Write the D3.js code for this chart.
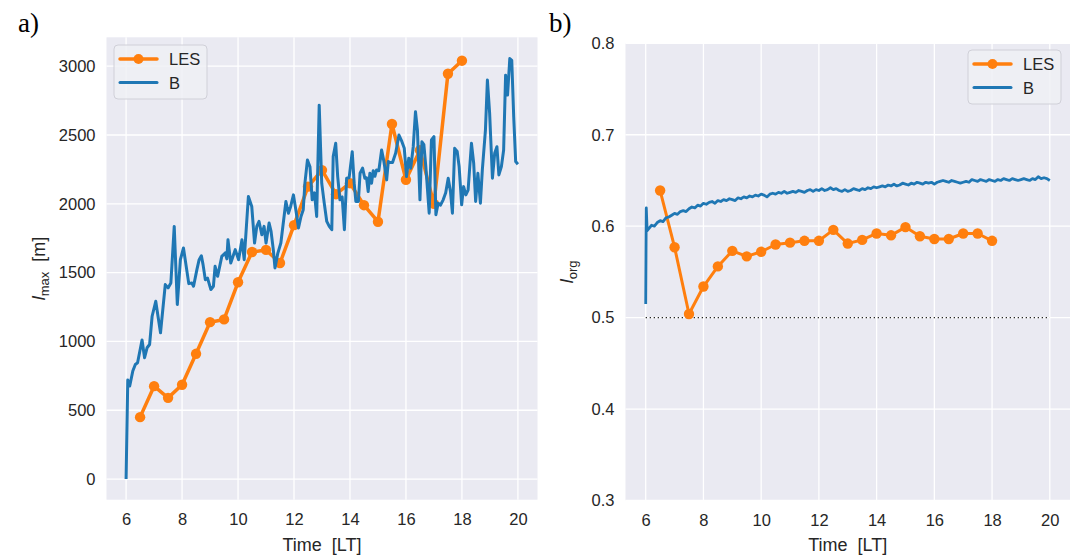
<!DOCTYPE html>
<html>
<head>
<meta charset="utf-8">
<script src="https://cdn.jsdelivr.net/npm/d3@7"></script>
<style>
  body { margin: 0; background: #ffffff; }
  svg { display: block; }
  text { font-family: "Liberation Sans", Arial, sans-serif; fill: #262626; }
  text.panel-letter { font-family: "Liberation Serif", "Times New Roman", serif; fill: #000000; }
</style>
</head>
<body>
<svg id="fig" width="1076" height="555"></svg>
<script>
// ---- data -------------------------------------------------------------
const timeTicks = [6, 8, 10, 12, 14, 16, 18, 20];
const lmaxTicks = [0, 500, 1000, 1500, 2000, 2500, 3000];
const iorgTicks = [0.3, 0.4, 0.5, 0.6, 0.7, 0.8];
const randomLevel = 0.5;

// LES output every half hour
const lesTimes = [6.5, 7, 7.5, 8, 8.5, 9, 9.5, 10, 10.5, 11, 11.5, 12,
                  12.5, 13, 13.5, 14, 14.5, 15, 15.5, 16, 16.5, 17, 17.5, 18];
const lesLmax = [450, 675, 590, 685, 910, 1140, 1160, 1430, 1650, 1665, 1570, 1845,
                 2125, 2245, 2070, 2150, 1990, 1870, 2580, 2175, 2390, 2000, 2945, 3040];
const lesIorg = [0.639, 0.577, 0.504, 0.534, 0.556, 0.573, 0.567, 0.572, 0.580, 0.582, 0.584, 0.584,
                 0.596, 0.581, 0.585, 0.592, 0.590, 0.599, 0.589, 0.586, 0.586, 0.592, 0.592, 0.584];

// B: largest cloud length [m]
const bLmaxTimes = [6.00, 6.06, 6.13, 6.24, 6.33, 6.41, 6.57, 6.66, 6.75, 6.84,
                    6.93, 7.06, 7.14, 7.23, 7.40, 7.50, 7.60, 7.72, 7.83, 7.94,
                    8.05, 8.24, 8.35, 8.41, 8.53, 8.61, 8.69, 8.75, 8.83, 8.91,
                    9.03, 9.12, 9.18, 9.27, 9.42, 9.54, 9.60, 9.64, 9.74, 9.90,
                    10.02, 10.14, 10.22, 10.37, 10.49, 10.59, 10.67, 10.75, 10.85, 10.93,
                    11.00, 11.11, 11.18, 11.26, 11.32, 11.42, 11.53, 11.71, 11.80, 11.88,
                    11.98, 12.07, 12.16, 12.25, 12.33, 12.39, 12.48, 12.57, 12.65, 12.73,
                    12.81, 12.90, 12.99, 13.08, 13.17, 13.26, 13.35, 13.40, 13.49, 13.56,
                    13.64, 13.72, 13.80, 13.88, 13.97, 14.08, 14.15, 14.21, 14.30, 14.36,
                    14.45, 14.53, 14.59, 14.65, 14.71, 14.77, 14.83, 14.89, 14.95, 15.03,
                    15.13, 15.21, 15.31, 15.37, 15.43, 15.52, 15.63, 15.75, 15.84, 15.94,
                    16.02, 16.10, 16.17, 16.26, 16.34, 16.41, 16.50, 16.57, 16.64, 16.71,
                    16.83, 16.91, 17.00, 17.07, 17.15, 17.23, 17.33, 17.42, 17.51, 17.59,
                    17.66, 17.74, 17.83, 17.90, 17.99, 18.06, 18.14, 18.22, 18.34, 18.42,
                    18.49, 18.57, 18.66, 18.73, 18.84, 18.91, 18.99, 19.09, 19.17, 19.25,
                    19.32, 19.41, 19.49, 19.56, 19.63, 19.71, 19.78, 19.85, 19.92, 20.00];
const bLmax = [0, 720, 676, 785, 833, 845, 1010, 882, 954, 978,
               1183, 1292, 1183, 1063, 1413, 1389, 1425, 1836, 1268, 1594,
               1679, 1420, 1425, 1401, 1522, 1594, 1623, 1558, 1449, 1460,
               1377, 1401, 1546, 1473, 1618, 1643, 1600, 1739, 1570, 1667,
               1594, 1739, 1594, 2053, 1981, 1715, 1836, 1872, 1775, 1836,
               1715, 1860, 1800, 1667, 1534, 1640, 1715, 2017, 1932, 1981,
               2065, 1950, 1824, 1908, 1957, 2150, 2319, 2270, 2029, 2080,
               1908, 2717, 2150, 2005, 1872, 1836, 1812, 2343, 2440, 2200,
               2029, 2050, 1812, 2186, 2190, 2379, 2150, 2017, 2017, 2222,
               2259, 2186, 2190, 2089, 2222, 2150, 2240, 2200, 2246, 2240,
               2391, 2310, 2174, 2307, 2300, 2300, 2367, 2500, 2460, 2403,
               2198, 2331, 2258, 2415, 2669, 2536, 2029, 2451, 2430, 2270,
               1932, 2464, 2488, 1920, 2005, 1990, 2029, 2080, 2186, 2090,
               1932, 2403, 2380, 2270, 1993, 2125, 2065, 2100, 2440, 2295,
               2017, 2222, 2005, 2250, 2536, 2899, 2657, 2186, 2367, 2415,
               2210, 2270, 2391, 2935, 2790, 3056, 3043, 2633, 2307, 2288];

// B: organisation index
const bIorgTimes = [6.00, 6.02, 6.05,
  6.1, 6.2, 6.3, 6.4, 6.5, 6.6, 6.7, 6.8, 6.9, 7.0,
  7.1, 7.2, 7.3, 7.4, 7.5, 7.6, 7.7, 7.8, 7.9, 8.0,
  8.1, 8.2, 8.3, 8.4, 8.5, 8.6, 8.7, 8.8, 8.9, 9.0,
  9.1, 9.2, 9.3, 9.4, 9.5, 9.6, 9.7, 9.8, 9.9, 10.0,
  10.1, 10.2, 10.3, 10.4, 10.5, 10.6, 10.7, 10.8, 10.9, 11.0,
  11.1, 11.2, 11.3, 11.4, 11.5, 11.6, 11.7, 11.8, 11.9, 12.0,
  12.1, 12.2, 12.3, 12.4, 12.5, 12.6, 12.7, 12.8, 12.9, 13.0,
  13.1, 13.2, 13.3, 13.4, 13.5, 13.6, 13.7, 13.8, 13.9, 14.0,
  14.1, 14.2, 14.3, 14.4, 14.5, 14.6, 14.7, 14.8, 14.9, 15.0,
  15.1, 15.2, 15.3, 15.4, 15.5, 15.6, 15.7, 15.8, 15.9, 16.0,
  16.1, 16.2, 16.3, 16.4, 16.5, 16.6, 16.7, 16.8, 16.9, 17.0,
  17.1, 17.2, 17.3, 17.4, 17.5, 17.6, 17.7, 17.8, 17.9, 18.0,
  18.1, 18.2, 18.3, 18.4, 18.5, 18.6, 18.7, 18.8, 18.9, 19.0,
  19.1, 19.2, 19.3, 19.4, 19.5, 19.6, 19.7, 19.8, 19.9, 20.0];
const bIorg = [0.515, 0.620, 0.595,
  0.597, 0.601, 0.600, 0.604, 0.606, 0.605, 0.609, 0.610, 0.612, 0.614,
  0.613, 0.616, 0.617, 0.616, 0.619, 0.621, 0.620, 0.623, 0.622, 0.625,
  0.624, 0.626, 0.627, 0.625, 0.628, 0.627, 0.629, 0.628, 0.630, 0.629,
  0.628, 0.631, 0.630, 0.632, 0.631, 0.633, 0.632, 0.634, 0.633, 0.635,
  0.634, 0.632, 0.635, 0.636, 0.635, 0.637, 0.636, 0.638, 0.636, 0.637,
  0.638, 0.637, 0.639, 0.638, 0.637, 0.639, 0.640, 0.638, 0.640, 0.639,
  0.641, 0.639, 0.640, 0.642, 0.640, 0.641, 0.639, 0.638, 0.640, 0.638,
  0.639, 0.641, 0.640, 0.639, 0.641, 0.640, 0.642, 0.641, 0.643, 0.642,
  0.643, 0.644, 0.643, 0.645, 0.644, 0.646, 0.644, 0.645, 0.647, 0.646,
  0.645, 0.647, 0.646, 0.648, 0.647, 0.646, 0.648, 0.647, 0.648, 0.646,
  0.648, 0.649, 0.650, 0.649, 0.648, 0.650, 0.649, 0.648, 0.647, 0.648,
  0.649, 0.648, 0.651, 0.650, 0.649, 0.651, 0.650, 0.649, 0.651, 0.650,
  0.649, 0.651, 0.650, 0.652, 0.651, 0.650, 0.652, 0.651, 0.650, 0.651,
  0.652, 0.651, 0.650, 0.652, 0.651, 0.654, 0.652, 0.653, 0.652, 0.650];

// ---- styling ----------------------------------------------------------
const ORANGE = "#ff7f0e";
const BLUE = "#1f77b4";
const PANEL_BG = "#eaeaf2";
const TICK_FONT = 16.5;
const LABEL_FONT = 18;

const svg = d3.select("#fig");

function zip(xs, ys) { return xs.map((x, i) => [x, ys[i]]); }

function drawPanel(cfg) {
  const x = d3.scaleLinear().domain([5.3, 20.7]).range([cfg.left, cfg.right]);
  const y = d3.scaleLinear().domain(cfg.yDomain).range([cfg.bottom, cfg.top]);
  const g = svg.append("g");

  g.append("rect")
    .attr("x", cfg.left).attr("y", cfg.top)
    .attr("width", cfg.right - cfg.left).attr("height", cfg.bottom - cfg.top)
    .attr("fill", PANEL_BG);

  // grid
  g.append("g").selectAll("line").data(timeTicks).join("line")
    .attr("x1", d => x(d)).attr("x2", d => x(d))
    .attr("y1", cfg.top).attr("y2", cfg.bottom)
    .attr("stroke", "#fff").attr("stroke-width", 1.3);
  g.append("g").selectAll("line").data(cfg.yTicks).join("line")
    .attr("x1", cfg.left).attr("x2", cfg.right)
    .attr("y1", d => y(d)).attr("y2", d => y(d))
    .attr("stroke", "#fff").attr("stroke-width", 1.3);

  // axes (labels only, no domain line or tick marks)
  const xAxis = g.append("g").attr("transform", `translate(0,${cfg.bottom})`)
    .call(d3.axisBottom(x).tickValues(timeTicks).tickSize(0).tickPadding(14).tickFormat(d3.format("d")));
  const yAxis = g.append("g").attr("transform", `translate(${cfg.left},0)`)
    .call(d3.axisLeft(y).tickValues(cfg.yTicks).tickSize(0).tickPadding(11).tickFormat(cfg.yFormat));
  [xAxis, yAxis].forEach(a => {
    a.select(".domain").remove();
    a.selectAll("text").attr("font-size", TICK_FONT)
      .attr("font-family", "'Liberation Sans', Arial, sans-serif").attr("fill", "#262626");
  });

  g.append("text")
    .attr("x", (cfg.left + cfg.right) / 2).attr("y", 551)
    .attr("text-anchor", "middle").attr("font-size", LABEL_FONT)
    .attr("xml:space", "preserve")
    .text("Time  [LT]");

  const yl = g.append("text")
    .attr("transform", `translate(${cfg.yLabelX},${(cfg.top + cfg.bottom) / 2}) rotate(-90)`)
    .attr("text-anchor", "middle").attr("font-size", LABEL_FONT)
    .attr("xml:space", "preserve");
  yl.append("tspan").attr("font-style", "italic").text("l");
  yl.append("tspan").attr("font-size", 13).attr("dy", 4).text(cfg.yLabelSub);
  if (cfg.yLabelUnit) yl.append("tspan").attr("dy", -4).text(cfg.yLabelUnit);

  svg.append("text")
    .attr("class", "panel-letter")
    .attr("x", cfg.letterX).attr("y", 32)
    .attr("font-size", 27)
    .text(cfg.letter);

  return { g, x, y };
}

function drawLegend(g, lx, ly) {
  g.append("rect")
    .attr("x", lx).attr("y", ly).attr("width", 93).attr("height", 54)
    .attr("rx", 4).attr("fill", "#eef0f5").attr("fill-opacity", 0.85)
    .attr("stroke", "#d0d0d8").attr("stroke-width", 1);
  const rows = [
    { label: "LES", color: ORANGE, marker: true, dy: 14 },
    { label: "B", color: BLUE, marker: false, dy: 37.5 }
  ];
  rows.forEach(r => {
    g.append("line")
      .attr("x1", lx + 6).attr("x2", lx + 43)
      .attr("y1", ly + r.dy).attr("y2", ly + r.dy)
      .attr("stroke", r.color).attr("stroke-width", r.marker ? 3.5 : 3)
      .attr("stroke-linecap", "round");
    if (r.marker) {
      g.append("circle").attr("cx", lx + 24.5).attr("cy", ly + r.dy).attr("r", 5)
        .attr("fill", r.color);
    }
    g.append("text").attr("x", lx + 55).attr("y", ly + r.dy + 6)
      .attr("font-size", 16.5).text(r.label);
  });
}

// ---- panel a: largest cloud length -------------------------------------
const pa = drawPanel({
  left: 106.5, right: 537.5, top: 37.3, bottom: 499.7,
  yDomain: [-150, 3210], yTicks: lmaxTicks, yFormat: d3.format("d"),
  yLabelX: 45, yLabelSub: "max", yLabelUnit: "  [m]",
  letter: "a)", letterX: 18
});
{
  const line = d3.line().x(d => pa.x(d[0])).y(d => pa.y(d[1]));
  const les = zip(lesTimes, lesLmax);
  pa.g.append("path").datum(les).attr("d", line)
    .attr("fill", "none").attr("stroke", ORANGE).attr("stroke-width", 3.5)
    .attr("stroke-linejoin", "round");
  pa.g.append("g").selectAll("circle").data(les).join("circle")
    .attr("cx", d => pa.x(d[0])).attr("cy", d => pa.y(d[1])).attr("r", 5.2)
    .attr("fill", ORANGE);
  pa.g.append("path").datum(zip(bLmaxTimes, bLmax)).attr("d", line)
    .attr("fill", "none").attr("stroke", BLUE).attr("stroke-width", 3)
    .attr("stroke-linejoin", "round");
  drawLegend(pa.g, 114, 45);
}

// ---- panel b: organisation index ---------------------------------------
const pb = drawPanel({
  left: 625.5, right: 1070, top: 43.3, bottom: 500.5,
  yDomain: [0.3, 0.8], yTicks: iorgTicks, yFormat: d3.format(".1f"),
  yLabelX: 573, yLabelSub: "org", yLabelUnit: null,
  letter: "b)", letterX: 549
});
{
  const line = d3.line().x(d => pb.x(d[0])).y(d => pb.y(d[1]));
  pb.g.append("line")
    .attr("x1", pb.x(6)).attr("x2", pb.x(20))
    .attr("y1", pb.y(randomLevel)).attr("y2", pb.y(randomLevel))
    .attr("stroke", "#262626").attr("stroke-width", 1.3)
    .attr("stroke-dasharray", "1.3,2.7");
  const les = zip(lesTimes, lesIorg);
  pb.g.append("path").datum(les).attr("d", line)
    .attr("fill", "none").attr("stroke", ORANGE).attr("stroke-width", 3)
    .attr("stroke-linejoin", "round");
  pb.g.append("g").selectAll("circle").data(les).join("circle")
    .attr("cx", d => pb.x(d[0])).attr("cy", d => pb.y(d[1])).attr("r", 5.2)
    .attr("fill", ORANGE);
  pb.g.append("path").datum(zip(bIorgTimes, bIorg)).attr("d", line)
    .attr("fill", "none").attr("stroke", BLUE).attr("stroke-width", 2.8)
    .attr("stroke-linejoin", "round");
  drawLegend(pb.g, 968, 50);
}
</script>
</body>
</html>
